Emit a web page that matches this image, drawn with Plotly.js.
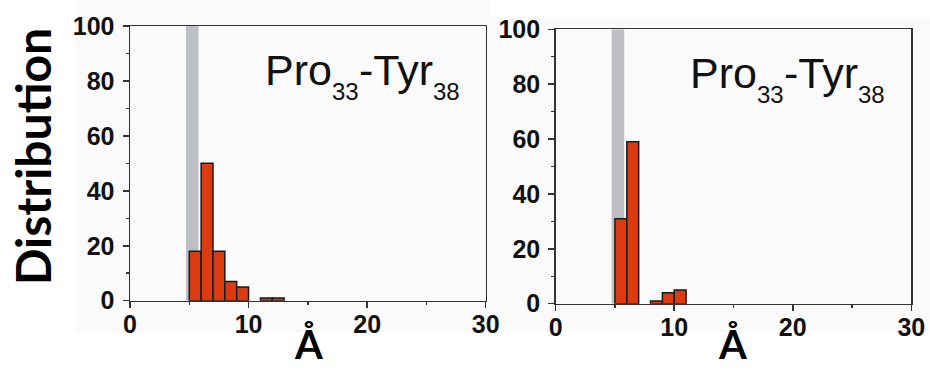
<!DOCTYPE html>
<html>
<head>
<meta charset="utf-8">
<script src="https://cdn.plot.ly/plotly-3.0.1.min.js"></script>
<style>html,body{margin:0;padding:0;background:#fff;}#chart{width:930px;height:370px;}</style>
</head>
<body>
<div id="chart"></div>
<script>
// ---- data ----
const binCentersLeft = [5.5, 6.5, 7.5, 8.5, 9.5, 10.5, 11.5, 12.5];
const valuesLeft     = [18, 50, 18, 7, 5, 0, 1, 1];
const binCentersRight = [5.5, 6.5, 7.5, 8.5, 9.5, 10.5];
const valuesRight     = [31, 59, 0, 1, 4, 5];
const binWidth = 1;
const bandLimits = [4.72, 5.78];
const xTickVals = [0, 10, 20, 30];
const yTickVals = [0, 20, 40, 60, 80, 100];
const panelLabelMain = ['Pro', '-Tyr'];
const panelLabelSub = ['33', '38'];
const yTitle = 'Distribution';
const xTitle = 'Å';

// ---- helpers ----
const W = 930, H = 370;
const px = v => v / W;
const py = v => 1 - v / H;
const tickFont = {family: 'Liberation Sans, Arial, sans-serif', size: 25, color: '#111', weight: 'bold'};
const labelFamily = 'Liberation Sans, Arial, sans-serif';

function nz(xs, ys) {
  const ox = [], oy = [];
  xs.forEach((x, i) => { if (ys[i] > 0) { ox.push(x); oy.push(ys[i]); } });
  return {x: ox, y: oy};
}
const L = nz(binCentersLeft, valuesLeft);
const R = nz(binCentersRight, valuesRight);

const barStyle = {color: '#dc3a10', line: {color: '#1a1a1a', width: 1.5}};
const traces = [
  {type: 'bar', x: L.x, y: L.y, width: binWidth, marker: barStyle, xaxis: 'x', yaxis: 'y', hoverinfo: 'skip'},
  {type: 'bar', x: R.x, y: R.y, width: binWidth, marker: barStyle, xaxis: 'x2', yaxis: 'y2', hoverinfo: 'skip'}
];

function xAxis(domain, anchor) {
  return {
    domain: domain, anchor: anchor, range: [0, 30], tickvals: xTickVals,
    showgrid: false, zeroline: false, showline: true, linecolor: '#333', linewidth: 1.5,
    mirror: true, ticks: 'outside', ticklen: 6, tickwidth: 1.5, tickcolor: '#333',
    minor: {dtick: 5, ticks: 'outside', ticklen: 3, tickwidth: 1.5, tickcolor: '#333', showgrid: false},
    tickfont: tickFont, ticklabelstandoff: -5, fixedrange: true
  };
}
function yAxis(domain, anchor) {
  return {
    domain: domain, anchor: anchor, range: [0, 100], tickvals: yTickVals,
    showgrid: false, zeroline: false, showline: true, linecolor: '#333', linewidth: 1.5,
    mirror: true, ticks: 'outside', ticklen: 6, tickwidth: 1.5, tickcolor: '#333',
    minor: {dtick: 10, ticks: 'outside', ticklen: 3, tickwidth: 1.5, tickcolor: '#333', showgrid: false},
    tickfont: tickFont, ticklabelstandoff: 3, fixedrange: true
  };
}

// measure text widths for the sub-scripted label
const cv = document.createElement('canvas').getContext('2d');
function tw(t, size) { cv.font = size + 'px "Liberation Sans", Arial, sans-serif'; return cv.measureText(t).width; }
const mainSize = 43, subSize = 24;

function panelLabel(x0, baseline) {
  const out = [];
  let x = x0;
  const parts = [
    [panelLabelMain[0], mainSize, 0], [panelLabelSub[0], subSize, 15],
    [panelLabelMain[1], mainSize, 0], [panelLabelSub[1], subSize, 15]
  ];
  parts.forEach(p => {
    const base = baseline + p[2];
    out.push({
      xref: 'paper', yref: 'paper', x: px(x), y: py(base - 0.3465 * p[1]),
      xanchor: 'left', yanchor: 'middle', showarrow: false, text: p[0],
      font: {family: labelFamily, size: p[1], color: '#111'}, borderpad: 0
    });
    x += tw(p[0], p[1]);
  });
  return out;
}

const titleFont = {family: 'Lato, sans-serif', size: 40, color: '#000', weight: 'bold'};
const annotations = [
  ...panelLabel(264, 85),
  ...panelLabel(689, 88),
  {xref: 'paper', yref: 'paper', x: px(32), y: py(157), xanchor: 'center', yanchor: 'middle',
   showarrow: false, textangle: -90, text: yTitle,
   font: {family: 'Lato, sans-serif', size: 48, color: '#000', weight: 'bold'}},
  {xref: 'paper', yref: 'paper', x: px(308), y: py(344), xanchor: 'center', yanchor: 'middle',
   showarrow: false, text: xTitle, font: titleFont, borderpad: 0},
  {xref: 'paper', yref: 'paper', x: px(732), y: py(344), xanchor: 'center', yanchor: 'middle',
   showarrow: false, text: xTitle, font: titleFont, borderpad: 0}
];

const shapes = [
  {type: 'rect', xref: 'paper', yref: 'paper', x0: px(75), x1: px(490), y0: py(332), y1: py(0),
   fillcolor: '#fafafa', line: {width: 0}, layer: 'below'},
  {type: 'rect', xref: 'paper', yref: 'paper', x0: px(490), x1: px(930), y0: py(332), y1: py(17),
   fillcolor: '#fafafa', line: {width: 0}, layer: 'below'},
  {type: 'rect', xref: 'x', yref: 'y', x0: bandLimits[0], x1: bandLimits[1], y0: 0, y1: 100,
   fillcolor: '#bebfc4', line: {width: 0}, layer: 'below'},
  {type: 'rect', xref: 'x2', yref: 'y2', x0: bandLimits[0], x1: bandLimits[1], y0: 0, y1: 100,
   fillcolor: '#bebfc4', line: {width: 0}, layer: 'below'}
];

const layout = {
  width: W, height: H,
  margin: {l: 0, r: 0, t: 0, b: 0},
  paper_bgcolor: '#ffffff', plot_bgcolor: 'rgba(0,0,0,0)',
  showlegend: false, bargap: 0,
  xaxis: xAxis([130 / W, 485.7 / W], 'y'),
  yaxis: yAxis([py(300.7), py(26)], 'x'),
  xaxis2: xAxis([555.7 / W, 911.3 / W], 'y2'),
  yaxis2: yAxis([py(303.7), py(29.3)], 'x2'),
  annotations: annotations,
  shapes: shapes
};

Plotly.newPlot('chart', traces, layout, {displayModeBar: false, staticPlot: true});
</script>
</body>
</html>
